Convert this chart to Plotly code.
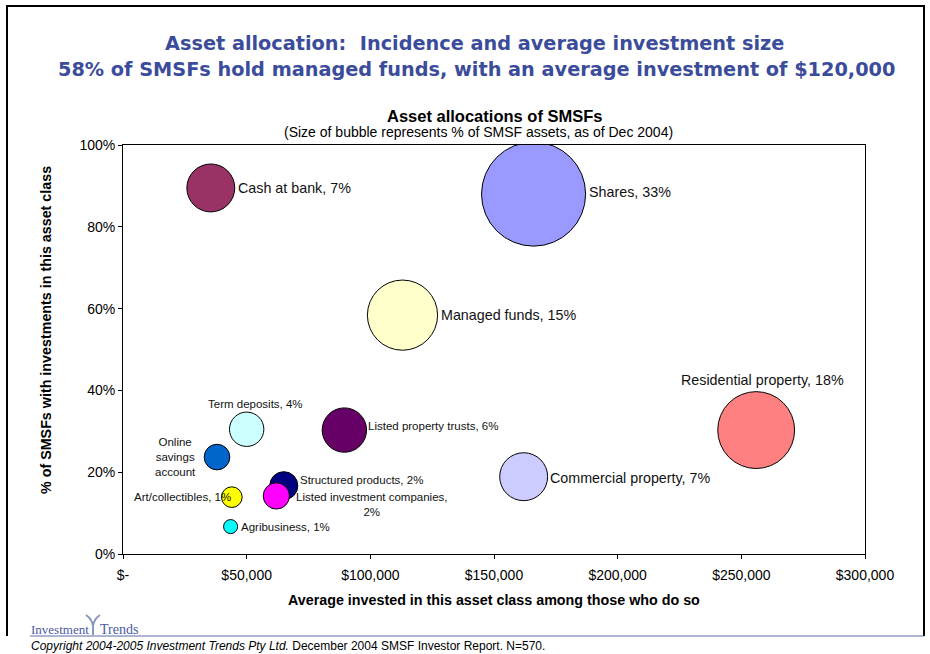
import math
import plotly.graph_objects as go

# ---------------- data ----------------
assets = ["Shares", "Residential property", "Managed funds", "Commercial property",
          "Cash at bank", "Listed property trusts", "Term deposits", "Online savings account",
          "Structured products", "Listed investment companies", "Art/collectibles", "Agribusiness"]
avg_invested = [166000, 256000, 113000, 162000, 35500, 89500, 50000, 38000, 65000, 62000, 44000, 43500]
pct_holding = [0.88, 0.303, 0.584, 0.189, 0.895, 0.303, 0.305, 0.237, 0.167, 0.142, 0.139, 0.067]
share_of_assets = [33, 18, 15, 7, 7, 6, 3.6, 2, 2.4, 2.1, 1.3, 0.6]
label_texts = ["Shares, 33%", "Residential property, 18%", "Managed funds, 15%",
               "Commercial property, 7%", "Cash at bank, 7%", "Listed property trusts, 6%",
               "Term deposits, 4%", "Online<br>savings<br>account", "Structured products, 2%",
               "Listed investment companies,<br>2%", "Art/collectibles, 1%", "Agribusiness, 1%"]
x_tickvals = [0, 50000, 100000, 150000, 200000, 250000, 300000]
x_ticktext = ["$-", "$50,000", "$100,000", "$150,000", "$200,000", "$250,000", "$300,000"]
y_tickvals = [0, 0.2, 0.4, 0.6, 0.8, 1.0]
y_ticktext = ["0%", "20%", "40%", "60%", "80%", "100%"]

# ---------------- style ----------------
colors = ["#9999FF", "#FF8080", "#FFFFCC", "#CCCCFF", "#993366", "#660066",
          "#CCFFFF", "#0066CC", "#000080", "#FF00FF", "#FFFF00", "#00FFFF"]
# (side, extra x shift, extra y shift, font size)
label_style = [("right", 1, 2, 14.3), ("top", 6, 2, 14.3), ("right", 1, 0, 14.3),
               ("right", 0, -1, 14.3), ("right", 1, 0, 14.3), ("right", -1, 4, 11.5),
               ("top", 9, 0, 11.5), ("left", 6, 0, 11.5), ("right", 0, 6, 11.5),
               ("right", 5, -9, 11.5), ("over", 1, 0, 11.5), ("right", 1, 0, 11.5)]

W, H = 930, 654
L, R, T, B = 123, 65, 145, 100
PW, PH = W - L - R, H - T - B
K = 9.06  # px radius per sqrt(size)

def pxx(px):
    return (px - L) / PW

def pxy(py):
    return (H - B - py) / PH

FONT = "Arial, Liberation Sans, sans-serif"

fig = go.Figure()
fig.add_trace(go.Scatter(
    x=avg_invested, y=pct_holding, mode="markers",
    marker=dict(size=share_of_assets, sizemode="area", sizeref=2 / (2 * K) ** 2,
                color=colors, line=dict(color="black", width=1), opacity=1),
    hovertext=assets, hoverinfo="text", cliponaxis=True, showlegend=False))

annotations = []
for xv, yv, s, txt, (side, dx, dy, fs) in zip(avg_invested, pct_holding, share_of_assets,
                                               label_texts, label_style):
    r = K * math.sqrt(s)
    a = dict(x=xv, y=yv, xref="x", yref="y", text=txt, showarrow=False,
             font=dict(family=FONT, size=fs, color="#111"), align="center")
    if side == "right":
        a.update(xanchor="left", yanchor="middle", xshift=r + dx, yshift=dy)
    elif side == "top":
        a.update(xanchor="center", yanchor="bottom", xshift=dx, yshift=r + dy)
    elif side == "left":
        a.update(xanchor="right", yanchor="middle", xshift=-(r + dx), yshift=dy)
    else:
        a.update(xanchor="right", yanchor="middle", xshift=dx, yshift=dy)
    annotations.append(a)

title_color = "#3B4C9B"
annotations += [
    dict(text="<b>Asset allocation:  Incidence and average investment size</b>", x=pxx(474), y=pxy(44),
         xref="paper", yref="paper", showarrow=False, xanchor="center", yanchor="middle",
         font=dict(family="DejaVu Sans", size=19.3, color=title_color), ),
    dict(text="<b>58% of SMSFs hold managed funds, with an average investment of $120,000</b>",
         x=pxx(476), y=pxy(69), xref="paper", yref="paper", showarrow=False,
         xanchor="center", yanchor="middle",
         font=dict(family="DejaVu Sans", size=19.3, color=title_color)),
    dict(text="<b>Asset allocations of SMSFs</b>", x=pxx(494), y=pxy(116), xref="paper",
         yref="paper", showarrow=False, xanchor="center", yanchor="middle",
         font=dict(family=FONT, size=16.5, color="black")),
    dict(text="(Size of bubble represents % of SMSF assets, as of Dec 2004)", x=pxx(478),
         y=pxy(132), xref="paper", yref="paper", showarrow=False, xanchor="center",
         yanchor="middle", font=dict(family=FONT, size=14, color="black")),
    dict(text="<b>% of SMSFs with investments in this asset class</b>", x=pxx(46), y=pxy(330),
         xref="paper", yref="paper", showarrow=False, textangle=-90, xanchor="center",
         yanchor="middle", font=dict(family=FONT, size=14.3, color="black")),
    dict(text="<b>Average invested in this asset class among those who do so</b>", x=pxx(494),
         y=pxy(600), xref="paper", yref="paper", showarrow=False, xanchor="center",
         yanchor="middle", font=dict(family=FONT, size=14.3, color="black")),
    dict(text="Investment", x=pxx(29), y=pxy(629), xref="paper", yref="paper", showarrow=False,
         xanchor="left", yanchor="middle",
         font=dict(family="Liberation Serif, serif", size=13, color="#4A5AA0")),
    dict(text="Trends", x=pxx(98), y=pxy(629), xref="paper", yref="paper", showarrow=False,
         xanchor="left", yanchor="middle",
         font=dict(family="Liberation Serif, serif", size=14, color="#4A5AA0")),
    dict(text="<i>Copyright 2004-2005 Investment Trends Pty Ltd.</i> December 2004 SMSF Investor Report. N=570.",
         x=pxx(29), y=pxy(646), xref="paper", yref="paper", showarrow=False, xanchor="left",
         yanchor="middle", font=dict(family=FONT, size=12, color="black")),
]

# slide border (no bottom edge) and footer line
x0, x1, y0, y1 = pxx(7), pxx(924), pxy(6), pxy(636)
shapes = [
    dict(type="path", xref="paper", yref="paper",
         path=f"M {x0},{y1} L {x0},{y0} L {x1},{y0} L {x1},{y1}",
         line=dict(color="black", width=2)),
    dict(type="line", xref="paper", yref="paper", x0=pxx(30), x1=pxx(924), y0=pxy(636),
         y1=pxy(636), line=dict(color="#5A68A8", width=1)),
    dict(type="path", xref="paper", yref="paper",
         path=(f"M {pxx(86)},{pxy(615)} Q {pxx(92)},{pxy(619)} {pxx(93)},{pxy(626)} "
               f"L {pxx(93)},{pxy(635)} M {pxx(100)},{pxy(615)} Q {pxx(94)},{pxy(619)} {pxx(93)},{pxy(626)}"),
         line=dict(color="#8A96BE", width=2)),
]

fig.update_layout(
    width=W, height=H, margin=dict(l=L, r=R, t=T, b=B, pad=0),
    paper_bgcolor="white", plot_bgcolor="white",
    annotations=annotations, shapes=shapes,
    font=dict(family=FONT, size=13, color="black"),
    xaxis=dict(range=[0, 300000], tickvals=x_tickvals, ticktext=x_ticktext,
               showgrid=False, zeroline=False, showline=True, linecolor="black", linewidth=1,
               mirror=True, ticks="outside", ticklen=4, tickcolor="black", ticklabelstandoff=4,
               tickfont=dict(family=FONT, size=14, color="black")),
    yaxis=dict(range=[0, 1], tickvals=y_tickvals, ticktext=y_ticktext,
               showgrid=False, zeroline=False, showline=True, linecolor="black", linewidth=1,
               mirror=True, ticks="outside", ticklen=4, tickcolor="black",
               tickfont=dict(family=FONT, size=14, color="black")),
)

fig.write_html("out.html", config={"displayModeBar": False},
               post_script="document.body.style.margin='0';")
